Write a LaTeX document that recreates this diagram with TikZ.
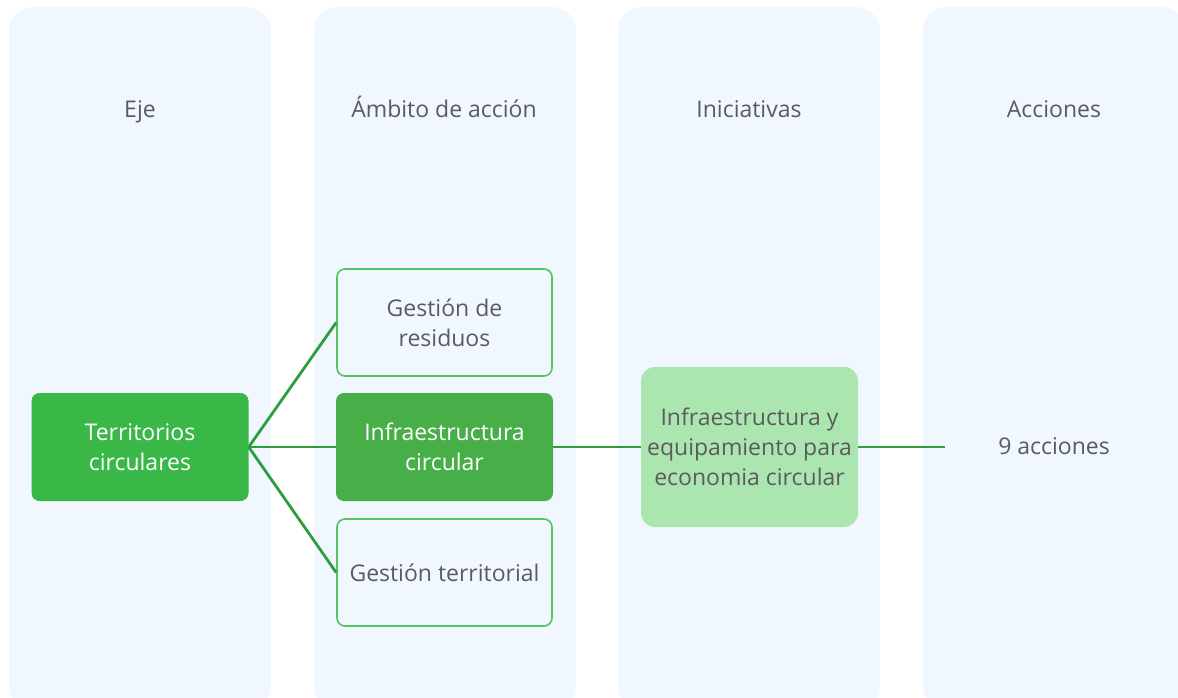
\documentclass[tikz,border=0pt]{standalone}
\usepackage{fontspec}
\setmainfont{Open Sans}
\definecolor{colbg}{HTML}{F0F7FE}
\definecolor{txtgray}{HTML}{5B5B5B}
\definecolor{linegreen}{HTML}{2E9E3C}
\definecolor{axisgreen}{HTML}{39B848}
\definecolor{ambgreen}{HTML}{48AE48}
\definecolor{outgreen}{HTML}{55C462}
\definecolor{inigreen}{HTML}{ABE6B0}
\tikzset{
  colbox/.style={fill=colbg, draw=none, rounded corners=24pt},
  header/.style={text=txtgray, font=\fontsize{23}{30}\selectfont, anchor=base},
  basebox/.style={minimum width=217pt, minimum height=108pt, rounded corners=8pt, align=center, font=\fontsize{23}{30}\selectfont, inner sep=0pt},
  axisbox/.style={basebox, fill=axisgreen, text=white},
  ambbox/.style={basebox, fill=ambgreen, text=white},
  outbox/.style={basebox, fill=colbg, draw=outgreen, line width=1.6pt, text=txtgray, minimum width=215pt, minimum height=107pt},
  inibox/.style={basebox, fill=inigreen, text=txtgray, minimum height=160pt, rounded corners=14pt},
  plaintext/.style={text=txtgray, font=\fontsize{23}{30}\selectfont},
  conn/.style={draw=linegreen, line width=2.8pt}
}
\begin{document}
\begin{tikzpicture}[x=1pt,y=-1pt]
\useasboundingbox (0,0) rectangle (1178,698);
% columns
\fill[colbox] (9,7) rectangle (271,710);
\fill[colbox] (314,7) rectangle (576,710);
\fill[colbox] (618,7) rectangle (880,710);
\fill[colbox] (923,7) rectangle (1185,710);
% headers
\node[header] (h1) at (140,118) {Eje};
\node[header] (h2) at (444,118) {Ámbito de acción};
\node[header] (h3) at (749,118) {Iniciativas};
\node[header] (h4) at (1054,118) {Acciones};
\coordinate (accend) at (945,447);
% nodes
\node[axisbox] (eje) at (140,447) {Territorios\\circulares};
\node[outbox] (res) at (444.5,322.5) {Gestión de\\residuos};
\node[ambbox] (inf) at (444.5,447) {Infraestructura\\circular};
\node[outbox] (ter) at (444.5,572.5) {Gestión territorial};
\node[inibox] (ini) at (749.5,447) {Infraestructura y\\equipamiento para\\economia circular};
\node[plaintext] (acc) at (1054,446) {9 acciones};
% connectors
\draw[conn] (eje.east) -- (res.west);
\draw[conn] (eje.east) -- (inf.west);
\draw[conn] (eje.east) -- (ter.west);
\draw[conn] (inf.east) -- (ini.west);
\draw[conn] (ini.east) -- (accend);
\end{tikzpicture}
\end{document}
